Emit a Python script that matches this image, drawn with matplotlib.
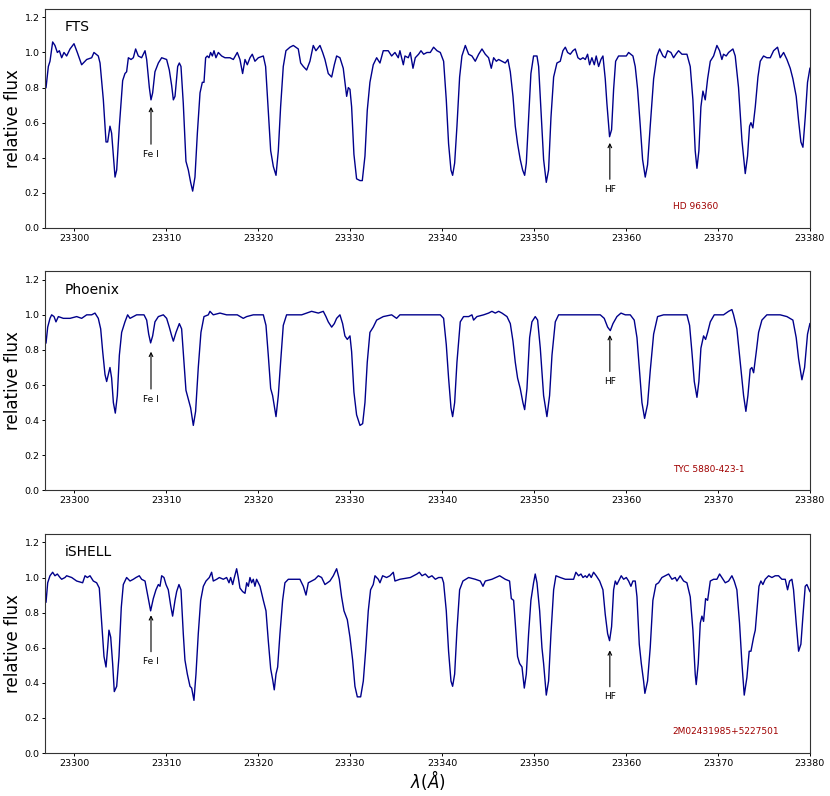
import matplotlib
matplotlib.use("Agg")
import matplotlib.pyplot as plt

# ---- data (wavelength in Angstrom, relative flux) ----
fts_wave = [
    23296.96, 23297.21, 23297.39, 23297.68, 23297.93, 23298.19, 23298.41, 23298.66, 23298.91, 23299.20,
    23299.57, 23300.00, 23300.36, 23300.83, 23301.38, 23301.92, 23302.17, 23302.64, 23302.83, 23303.19,
    23303.48, 23303.66, 23303.91, 23304.09, 23304.46, 23304.64, 23304.93, 23305.29, 23305.54, 23305.72,
    23305.91, 23306.20, 23306.45, 23306.70, 23306.99, 23307.35, 23307.72, 23307.90, 23308.19, 23308.37,
    23308.55, 23308.80, 23309.17, 23309.53, 23310.07, 23310.36, 23310.62, 23310.80, 23310.98, 23311.27,
    23311.45, 23311.63, 23311.88, 23312.17, 23312.43, 23312.68, 23312.90, 23313.15, 23313.41, 23313.70,
    23313.95, 23314.13, 23314.31, 23314.49, 23314.67, 23314.85, 23315.04, 23315.22, 23315.43, 23315.69,
    23316.05, 23316.41, 23316.96, 23317.32, 23317.75, 23318.04, 23318.33, 23318.59, 23318.84, 23319.13,
    23319.38, 23319.67, 23320.04, 23320.58, 23320.83, 23321.12, 23321.38, 23321.67, 23321.96, 23322.21,
    23322.46, 23322.75, 23323.04, 23323.48, 23323.84, 23324.38, 23324.64, 23324.93, 23325.29, 23325.65,
    23326.01, 23326.30, 23326.74, 23327.03, 23327.28, 23327.64, 23328.01, 23328.30, 23328.55, 23328.91,
    23329.27, 23329.45, 23329.64, 23329.82, 23330.00, 23330.18, 23330.43, 23330.72, 23331.09, 23331.34,
    23331.63, 23331.88, 23332.17, 23332.53, 23332.90, 23333.26, 23333.62, 23334.16, 23334.53, 23334.89,
    23335.25, 23335.43, 23335.61, 23335.80, 23335.98, 23336.34,
    23336.56, 23336.85, 23337.10, 23337.46, 23337.72, 23338.01, 23338.37, 23338.73, 23339.09, 23339.46,
    23339.82, 23340.18, 23340.47, 23340.72, 23340.98, 23341.16, 23341.38, 23341.63, 23341.92, 23342.17,
    23342.54, 23342.90, 23343.26, 23343.62, 23343.99, 23344.35, 23344.71, 23345.07, 23345.36, 23345.62,
    23345.91, 23346.16, 23346.52, 23346.88, 23347.17, 23347.43, 23347.72, 23347.97, 23348.22, 23348.51,
    23348.77, 23348.99, 23349.17, 23349.42, 23349.67, 23349.96, 23350.33, 23350.51, 23350.76, 23351.05,
    23351.34, 23351.59, 23351.85, 23352.14, 23352.50, 23352.86, 23353.15, 23353.41, 23353.66, 23353.95,
    23354.24, 23354.49, 23354.78, 23355.04, 23355.33, 23355.58, 23355.83, 23356.05, 23356.30, 23356.56,
    23356.77, 23357.03, 23357.28, 23357.50, 23357.75, 23357.93, 23358.22, 23358.44, 23358.66, 23358.88,
    23359.20, 23359.75, 23360.04, 23360.29, 23360.76, 23361.01, 23361.27, 23361.56, 23361.81, 23362.10,
    23362.35, 23362.64, 23363.01, 23363.37, 23363.66, 23364.02, 23364.27, 23364.53, 23364.89, 23365.18,
    23365.43, 23365.72, 23366.09, 23366.63, 23366.99, 23367.28, 23367.53, 23367.72, 23367.93, 23368.15,
    23368.37, 23368.62, 23368.88, 23369.17, 23369.53, 23369.89, 23370.18, 23370.43, 23370.61, 23370.90,
    23371.16, 23371.63, 23371.88, 23372.24, 23372.61, 23372.97, 23373.22, 23373.44, 23373.59, 23373.80,
    23374.06, 23374.35, 23374.60, 23374.96, 23375.32, 23375.69, 23376.05, 23376.48, 23376.77, 23377.14,
    23377.50, 23377.86, 23378.15, 23378.51, 23378.77, 23379.02, 23379.24, 23379.49, 23379.74, 23380.00,
]
fts_flux = [
    0.80, 0.92, 0.95, 1.06, 1.04, 1.00, 1.01, 0.97, 1.00, 0.98,
    1.02, 1.05, 1.00, 0.93, 0.96, 0.97, 1.00, 0.98, 0.94, 0.73,
    0.49, 0.49, 0.58, 0.54, 0.29, 0.33, 0.58, 0.84, 0.88, 0.89,
    0.97, 0.96, 0.97, 1.02, 0.98, 0.97, 1.01, 0.96, 0.80, 0.73,
    0.77, 0.89, 0.94, 0.97, 0.96, 0.90, 0.81, 0.73, 0.75, 0.92,
    0.94, 0.92, 0.71, 0.38, 0.33, 0.26, 0.21, 0.29, 0.54, 0.77,
    0.83, 0.83, 0.97, 0.98, 0.97, 1.00, 0.98, 1.01, 0.97, 1.00,
    0.98, 0.97, 0.97, 0.96, 1.00, 0.96, 0.88, 0.96, 0.93, 0.97,
    0.99, 0.95, 0.97, 0.98, 0.92, 0.67, 0.44, 0.35, 0.30, 0.44,
    0.69, 0.92, 1.01, 1.03, 1.04, 1.02, 0.94, 0.92, 0.90, 0.95,
    1.04, 1.01, 1.04, 1.00, 0.96, 0.88, 0.86, 0.93, 0.98, 0.97,
    0.91, 0.83, 0.75, 0.80, 0.79, 0.69, 0.42, 0.28, 0.27, 0.27,
    0.41, 0.67, 0.83, 0.93, 0.97, 0.94, 1.01, 1.01, 0.98, 1.00,
    0.97, 1.01, 0.97, 0.93, 0.98, 0.97,
    1.00, 0.91, 0.97, 0.99, 1.01, 0.99, 1.00, 1.00, 1.03, 1.01,
    1.00, 0.95, 0.73, 0.48, 0.33, 0.30, 0.37, 0.58, 0.86, 0.98,
    1.04, 0.99, 0.98, 0.95, 0.99, 1.02, 0.99, 0.97, 0.91, 0.97,
    0.95, 0.96, 0.95, 0.94, 0.96, 0.89, 0.75, 0.58, 0.48, 0.39,
    0.33, 0.30, 0.37, 0.63, 0.88, 0.98, 0.98, 0.92, 0.67, 0.39,
    0.26, 0.33, 0.63, 0.86, 0.94, 0.95, 1.01, 1.03, 1.00, 0.99,
    1.01, 1.02, 0.97, 0.96, 0.97, 0.96, 0.99, 0.93, 0.97, 0.93,
    0.98, 0.92, 0.96, 0.98, 0.85, 0.71, 0.52, 0.56, 0.79, 0.95,
    0.98, 0.98, 0.98, 1.00, 0.98, 0.92, 0.79, 0.58, 0.39, 0.29,
    0.36, 0.58, 0.85, 0.98, 1.02, 0.98, 0.97, 1.01, 1.00, 0.97,
    0.99, 1.01, 0.99, 0.99, 0.92, 0.73, 0.44, 0.34, 0.44, 0.69,
    0.78, 0.73, 0.85, 0.95, 0.98, 1.04, 1.01, 0.96, 0.99, 0.98,
    1.00, 1.02, 0.98, 0.80, 0.50, 0.31, 0.41, 0.58, 0.60, 0.57,
    0.69, 0.86, 0.95, 0.98, 0.97, 0.97, 1.01, 1.03, 0.97, 1.00,
    0.96, 0.91, 0.85, 0.75, 0.61, 0.49, 0.46, 0.63, 0.83, 0.91,
]

phoenix_wave = [
    23296.96, 23297.14, 23297.39, 23297.57, 23297.83, 23298.04, 23298.30, 23298.84, 23299.57, 23300.29,
    23300.83, 23301.38, 23301.92, 23302.28, 23302.64, 23302.90, 23303.12, 23303.37, 23303.55, 23303.73,
    23303.91, 23304.09, 23304.28, 23304.49, 23304.71, 23304.93, 23305.18, 23305.54, 23305.83, 23306.09,
    23306.45, 23306.81, 23307.17, 23307.61, 23307.90, 23308.12, 23308.33, 23308.55, 23308.80, 23309.17,
    23309.71, 23310.07, 23310.36, 23310.62, 23310.80, 23311.09, 23311.45, 23311.70, 23311.96, 23312.17,
    23312.43, 23312.68, 23312.97, 23313.22, 23313.51, 23313.80, 23314.13, 23314.60, 23314.78, 23315.14,
    23315.87, 23316.59, 23316.96, 23317.75, 23318.40, 23318.77, 23319.49, 23320.58, 23320.87, 23321.12,
    23321.38, 23321.59, 23321.96, 23322.21, 23322.46, 23322.75, 23323.11, 23323.66, 23324.20, 23324.75,
    23325.29, 23325.83, 23326.56, 23327.10, 23327.39, 23327.64, 23328.01, 23328.30, 23328.55, 23328.91,
    23329.20, 23329.45, 23329.71, 23330.00, 23330.18, 23330.43, 23330.72, 23331.09, 23331.38, 23331.63,
    23331.88, 23332.17, 23332.53, 23332.90, 23333.62, 23334.53, 23335.07, 23335.43, 23336.34,
    23336.56, 23337.65, 23338.73, 23339.82, 23340.18, 23340.47, 23340.72, 23340.98, 23341.16, 23341.38,
    23341.63, 23341.99, 23342.35, 23342.90, 23343.26, 23343.44, 23343.80, 23344.53, 23345.07, 23345.43,
    23345.80, 23346.16, 23346.52, 23347.07, 23347.43, 23347.72, 23347.97, 23348.22, 23348.51, 23348.80,
    23348.99, 23349.24, 23349.53, 23349.78, 23350.14, 23350.40, 23350.69, 23351.05, 23351.41, 23351.70,
    23351.96, 23352.32, 23352.68, 23353.59, 23354.67, 23356.12, 23357.21, 23357.64, 23358.01, 23358.30,
    23358.59, 23359.02, 23359.46, 23359.93, 23360.47, 23360.90, 23361.20, 23361.48, 23361.74, 23362.03,
    23362.35, 23362.64, 23363.01, 23363.44, 23364.09, 23365.18, 23366.09, 23366.63, 23366.92, 23367.17,
    23367.43, 23367.72, 23367.93, 23368.15, 23368.44, 23368.66, 23368.88, 23369.17, 23369.60, 23370.07,
    23370.61, 23371.16, 23371.52, 23371.70, 23372.06, 23372.43, 23372.79, 23373.04, 23373.26, 23373.51,
    23373.69, 23373.88, 23374.17, 23374.42, 23374.78, 23375.32, 23376.05, 23376.77, 23377.50, 23378.15,
    23378.51, 23378.77, 23379.13, 23379.42, 23379.74, 23380.00,
]
phoenix_flux = [
    0.84, 0.93, 0.98, 1.00, 0.99, 0.96, 0.99, 0.98, 0.98, 0.99,
    0.98, 1.00, 1.00, 1.01, 0.98, 0.92, 0.79, 0.66, 0.62, 0.66,
    0.70, 0.64, 0.50, 0.44, 0.54, 0.77, 0.90, 0.96, 1.00, 0.98,
    0.99, 1.00, 1.00, 1.00, 0.97, 0.89, 0.84, 0.88, 0.96, 0.99,
    1.00, 0.98, 0.93, 0.88, 0.85, 0.90, 0.95, 0.92, 0.73, 0.57,
    0.52, 0.47, 0.37, 0.45, 0.70, 0.90, 0.99, 1.00, 1.02, 1.00,
    1.01, 1.00, 1.00, 1.00, 0.98, 0.99, 1.00, 1.00, 0.94, 0.77,
    0.58, 0.54, 0.42, 0.54, 0.73, 0.94, 1.00, 1.00, 1.00, 1.00,
    1.01, 1.02, 1.01, 1.02, 0.99, 0.96, 0.93, 0.95, 0.98, 1.00,
    0.95, 0.88, 0.86, 0.88, 0.79, 0.56, 0.43, 0.37, 0.38, 0.50,
    0.73, 0.90, 0.93, 0.97, 0.99, 1.00, 0.98, 1.00, 1.00,
    1.00, 1.00, 1.00, 1.00, 0.98, 0.83, 0.64, 0.47, 0.42, 0.50,
    0.73, 0.96, 0.99, 0.99, 1.00, 0.97, 0.99, 1.00, 1.01, 1.02,
    1.01, 1.02, 1.01, 0.99, 0.95, 0.85, 0.73, 0.64, 0.58, 0.50,
    0.46, 0.58, 0.87, 0.96, 0.99, 0.97, 0.81, 0.54, 0.42, 0.54,
    0.77, 0.96, 1.00, 1.00, 1.00, 1.00, 1.00, 0.98, 0.93, 0.91,
    0.95, 0.99, 1.01, 1.00, 1.00, 0.97, 0.87, 0.68, 0.50, 0.41,
    0.49, 0.68, 0.89, 0.99, 1.00, 1.00, 1.00, 1.00, 0.94, 0.79,
    0.62, 0.53, 0.62, 0.81, 0.88, 0.86, 0.90, 0.96, 1.00, 1.00,
    1.00, 1.02, 1.03, 1.00, 0.92, 0.73, 0.54, 0.45, 0.54, 0.69,
    0.70, 0.67, 0.79, 0.90, 0.97, 1.00, 1.00, 1.00, 0.99, 0.97,
    0.87, 0.75, 0.63, 0.70, 0.89, 0.95,
]

ishell_wave = [
    23296.96, 23297.14, 23297.39, 23297.68, 23297.93, 23298.19, 23298.48, 23298.66, 23299.02, 23299.20,
    23299.75, 23300.29, 23300.94, 23301.20, 23301.45, 23301.74, 23302.10, 23302.46, 23302.75, 23303.01,
    23303.26, 23303.48, 23303.66, 23303.80, 23303.99, 23304.20, 23304.38, 23304.64, 23304.89, 23305.14,
    23305.36, 23305.72, 23306.09, 23306.45, 23306.74, 23307.10, 23307.35, 23307.72, 23308.08, 23308.33,
    23308.62, 23308.91, 23309.17, 23309.35, 23309.53, 23309.78, 23310.00, 23310.25, 23310.51, 23310.72,
    23310.98, 23311.16, 23311.41, 23311.63, 23311.88, 23312.06, 23312.32, 23312.61, 23312.79, 23313.04,
    23313.26, 23313.51, 23313.77, 23314.06, 23314.35, 23314.71, 23314.96, 23315.14, 23315.51, 23315.80,
    23316.23, 23316.59, 23316.85, 23317.03, 23317.25, 23317.43, 23317.68, 23317.86, 23318.04, 23318.33,
    23318.59, 23318.77, 23318.95, 23319.13, 23319.31, 23319.49, 23319.67, 23319.85, 23320.22, 23320.58,
    23320.87, 23321.12, 23321.38, 23321.59, 23321.77, 23321.96, 23322.14, 23322.39, 23322.68, 23322.93,
    23323.30, 23323.84, 23324.56, 23324.93, 23325.22, 23325.47, 23325.83, 23326.19, 23326.56, 23326.92,
    23327.28, 23327.82, 23328.19, 23328.55, 23328.84, 23329.09, 23329.35, 23329.71, 23330.00, 23330.29,
    23330.54, 23330.80, 23331.16, 23331.45, 23331.70, 23331.99, 23332.24, 23332.53, 23332.72, 23333.08,
    23333.26, 23333.55, 23333.98, 23334.35, 23334.71, 23334.89, 23335.43,
    23336.56, 23336.92, 23337.28, 23337.54, 23337.83, 23338.19, 23338.55, 23338.91, 23339.28, 23339.64,
    23340.00, 23340.18, 23340.47, 23340.72, 23340.98, 23341.16, 23341.38, 23341.63, 23341.92, 23342.28,
    23342.90, 23343.62, 23344.17, 23344.46, 23344.71, 23345.43, 23346.27, 23346.88, 23347.35, 23347.54,
    23347.79, 23347.97, 23348.22, 23348.44, 23348.70, 23348.95, 23349.17, 23349.42, 23349.67, 23349.96,
    23350.14, 23350.33, 23350.62, 23350.87, 23351.05, 23351.34, 23351.59, 23351.85, 23352.14, 23352.39,
    23352.86, 23353.41, 23353.95, 23354.31, 23354.56, 23354.85, 23355.11, 23355.33, 23355.58, 23355.76,
    23356.01, 23356.23, 23356.48, 23356.77, 23357.14, 23357.50, 23357.75, 23358.01, 23358.22, 23358.44,
    23358.66, 23358.84, 23359.02, 23359.31, 23359.49, 23359.75, 23360.04, 23360.29, 23360.54, 23360.76,
    23361.01, 23361.20, 23361.45, 23361.67, 23361.92, 23362.06, 23362.35, 23362.64, 23362.93, 23363.26,
    23363.55, 23363.91, 23364.27, 23364.64, 23365.00, 23365.36, 23365.54, 23365.90, 23366.27, 23366.63,
    23366.99, 23367.28, 23367.53, 23367.64, 23367.86, 23368.08, 23368.26, 23368.44, 23368.66, 23368.88,
    23369.17, 23369.53, 23369.89, 23370.18, 23370.43, 23370.80, 23371.16, 23371.52, 23371.77, 23372.06,
    23372.35, 23372.61, 23372.86, 23373.15, 23373.40, 23373.59, 23373.88, 23374.06, 23374.24, 23374.46,
    23374.67, 23374.89, 23375.14, 23375.51, 23375.87, 23376.23, 23376.59, 23376.95, 23377.32, 23377.57,
    23377.79, 23378.04, 23378.22, 23378.51, 23378.77, 23379.02, 23379.24, 23379.49, 23379.67, 23380.00,
]
ishell_flux = [
    0.86, 0.97, 1.01, 1.03, 1.01, 1.02, 1.00, 0.99, 1.00, 1.01,
    1.00, 0.98, 0.97, 1.01, 1.00, 1.01, 0.98, 0.97, 0.94, 0.74,
    0.55, 0.49, 0.60, 0.70, 0.66, 0.51, 0.35, 0.38, 0.55, 0.83,
    0.96, 1.00, 0.98, 0.99, 1.00, 1.01, 0.99, 0.98, 0.88, 0.81,
    0.88, 0.93, 0.96, 0.95, 1.01, 1.00, 0.96, 0.93, 0.84, 0.78,
    0.87, 0.92, 0.96, 0.93, 0.68, 0.53, 0.45, 0.38, 0.37, 0.30,
    0.45, 0.68, 0.87, 0.95, 0.98, 1.00, 1.03, 0.98, 0.99, 1.00,
    0.99, 1.00, 0.97, 1.00, 0.96, 1.00, 1.05, 1.00, 0.94, 0.92,
    0.91, 0.97, 0.95, 1.00, 0.97, 0.99, 0.95, 0.99, 0.95, 0.87,
    0.81, 0.64, 0.48, 0.42, 0.36, 0.45, 0.49, 0.68, 0.87, 0.97,
    0.99, 0.99, 0.99, 0.95, 0.90, 0.97, 0.98, 0.99, 1.01, 1.00,
    0.96, 0.98, 1.01, 1.05, 0.99, 0.89, 0.81, 0.76, 0.66, 0.53,
    0.38, 0.32, 0.32, 0.41, 0.58, 0.81, 0.93, 0.96, 1.01, 0.99,
    0.97, 1.01, 1.00, 1.01, 1.03, 0.98, 0.99,
    1.00, 1.01, 1.02, 1.03, 1.01, 1.02, 1.00, 1.01, 0.99, 1.00,
    1.00, 0.97, 0.81, 0.58, 0.41, 0.38, 0.45, 0.70, 0.93, 0.98,
    1.00, 0.99, 0.98, 0.95, 0.98, 0.99, 1.01, 0.99, 0.98, 0.88,
    0.87, 0.74, 0.55, 0.51, 0.49, 0.37, 0.45, 0.68, 0.87, 0.97,
    1.02, 0.97, 0.81, 0.60, 0.51, 0.33, 0.41, 0.68, 0.93, 1.01,
    1.00, 0.99, 0.99, 0.99, 1.03, 1.01, 1.02, 1.00, 1.01, 1.00,
    1.02, 1.00, 1.03, 1.01, 0.98, 0.93, 0.79, 0.68, 0.64, 0.72,
    0.93, 0.98, 0.96, 0.99, 1.01, 0.99, 1.00, 0.98, 0.95, 0.98,
    0.98, 0.89, 0.62, 0.51, 0.41, 0.34, 0.41, 0.60, 0.87, 0.96,
    0.97, 1.00, 1.01, 1.02, 0.99, 1.00, 0.98, 1.01, 0.98, 0.97,
    0.89, 0.70, 0.45, 0.39, 0.51, 0.74, 0.78, 0.75, 0.88, 0.87,
    0.98, 0.99, 0.99, 1.02, 1.00, 0.97, 0.98, 1.01, 0.98, 0.93,
    0.74, 0.51, 0.33, 0.43, 0.58, 0.58, 0.66, 0.70, 0.81, 0.95,
    0.98, 0.96, 0.99, 1.01, 1.00, 1.01, 1.01, 0.99, 0.99, 0.93,
    0.98, 0.99, 0.93, 0.74, 0.58, 0.62, 0.78, 0.95, 0.96, 0.92,
]

panel_names = ["FTS", "Phoenix", "iSHELL"]
star_names = ["HD 96360", "TYC 5880-423-1", "2M02431985+5227501"]

# line markers: wavelength, arrow tip flux and label flux per panel
fe_wave = 23308.37
fe_tip = [0.69, 0.79, 0.785]
fe_text = [0.42, 0.52, 0.52]
hf_wave = 23358.25
hf_tip = [0.485, 0.885, 0.585]
hf_text = [0.22, 0.62, 0.32]

waves = [fts_wave, phoenix_wave, ishell_wave]
fluxes = [fts_flux, phoenix_flux, ishell_flux]

fig = plt.figure(figsize=(8.3, 7.96), dpi=100)
bottoms = [0.7136, 0.384, 0.054]

for i in range(3):
    ax = fig.add_axes([0.0548, bottoms[i], 0.921, 0.2756])
    ax.plot(waves[i], fluxes[i], color="#00008b", lw=1.0)
    ax.set_xlim(23296.9, 23380)
    ax.set_ylim(0, 1.25)
    ax.set_xticks(range(23300, 23381, 10))
    ax.set_yticks([0.0, 0.2, 0.4, 0.6, 0.8, 1.0, 1.2])
    ax.tick_params(labelsize=6.8, length=2.3, width=0.7, pad=2)
    for sp in ax.spines.values():
        sp.set_color("#333333")
    ax.set_ylabel("relative flux", fontsize=12, labelpad=2)

    ax.text(0.025, 0.915, panel_names[i], transform=ax.transAxes,
            fontsize=10, va="center")
    ax.text(23365.1, 0.12, star_names[i], color="#a00000",
            fontsize=6.5, va="center")

    ax.annotate("Fe I", xy=(fe_wave, fe_tip[i]), xytext=(fe_wave, fe_text[i]),
                ha="center", va="center", fontsize=6.5,
                arrowprops=dict(arrowstyle="->", color="black", lw=0.8, shrinkB=0))
    ax.annotate("HF", xy=(hf_wave, hf_tip[i]), xytext=(hf_wave, hf_text[i]),
                ha="center", va="center", fontsize=6.5,
                arrowprops=dict(arrowstyle="->", color="black", lw=0.8, shrinkB=0))

    if i == 2:
        ax.set_xlabel(r"$\lambda(\AA)$", fontsize=12, labelpad=0)

fig.savefig("out.png", dpi=100)
